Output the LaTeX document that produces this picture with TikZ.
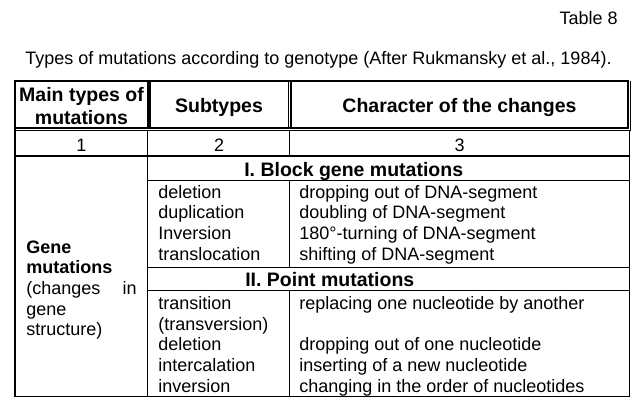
\documentclass[tikz,border=0pt]{standalone}
\usepackage{fontspec}
\setmainfont{Liberation Sans}
\newcommand\tabtext{\fontsize{12}{13.8}\selectfont}
\newcommand\tabhead{\fontsize{13}{15}\selectfont\bfseries}
\tikzset{
	cell/.style={inner sep=0pt, anchor=base west, font=\tabtext},
	cellc/.style={inner sep=0pt, anchor=base, font=\tabtext},
	headc/.style={inner sep=0pt, anchor=base, font=\tabhead},
	heavy/.style={line width=1.3pt},
	rule/.style={line width=0.7pt}
}
\begin{document}
\begin{tikzpicture}[x=0.6667pt, y=-0.6667pt]
	\useasboundingbox (0,0) rectangle (642,411);
	% Ueberschrift
	\node[cell, anchor=base east] (tabno) at (618, 25) {Table 8};
	\node[cell] (caption) at (25, 65) {Types of mutations according to genotype (After Rukmansky et al., 1984).};

	% Kopfzeile
	\draw[heavy] (15, 81) rectangle (628.3, 128.3);
	\draw[heavy] (147.7, 81) -- (147.7, 128.3);
	\draw[heavy] (290.7, 81) -- (290.7, 128.3);
	\draw[rule] (150, 81) -- (150, 128.3);
	\draw[rule] (288.3, 81) -- (288.3, 128.3);
	\draw[rule] (15, 130.7) -- (630.7, 130.7) -- (630.7, 81);
	\node[headc] (main1) at (81.5, 101) {Main types of};
	\node[headc] (main2) at (81.5, 124) {mutations};
	\node[headc] (sub) at (219, 112.5) {Subtypes};
	\node[headc] (char) at (459.5, 112.5) {Character of the changes};

	% Spaltennummern
	\foreach \x/\n in {81.5/1, 219/2, 459.5/3}
		\node[cellc] (num\n) at (\x, 151) {\n};

	% Linien im Tabellenkoerper
	\draw[rule] (15, 128.3) -- (15, 396.7) -- (629.3, 396.7) -- (629.3, 130.7);
	\draw[rule] (15, 156) -- (629.3, 156);
	\draw[rule] (147.5, 130.7) -- (147.5, 396.7);
	\foreach \y in {180.7, 267.5, 290.7}
		\draw[rule] (147.5, \y) -- (629.3, \y);
	\draw[rule] (289.5, 130.7) -- (289.5, 156);
	\draw[rule] (289.5, 180.7) -- (289.5, 267.5);
	\draw[rule] (289.5, 290.7) -- (289.5, 396.7);

	% Spalte 1
	\node[cell, font=\tabtext\bfseries] (gene) at (26, 253) {Gene};
	\node[cell, font=\tabtext\bfseries] (genemut) at (26, 273.7) {mutations};
	\node[cell] (changes) at (26, 294.4) {(changes};
	\node[cell, anchor=base east] (in) at (137, 294.4) {in};
	\node[cell] (gene2) at (26, 315.1) {gene};
	\node[cell] (struct) at (26, 335.8) {structure)};

	% I. Blockmutationen
	\node[cell, font=\tabhead] (block) at (244, 176) {I. Block gene mutations};
	\foreach \i/\y/\sub/\chr in {1/198/deletion/dropping out of DNA-segment,
		2/218.7/duplication/doubling of DNA-segment,
		3/239.4/Inversion/180°-turning of DNA-segment,
		4/260.1/translocation/shifting of DNA-segment} {
		\node[cell] (bsub\i) at (158, \y) {\sub};
		\node[cell] (bchr\i) at (299, \y) {\chr};
	}

	% II. Punktmutationen
	\node[cell, font=\tabhead] (point) at (245, 286) {II. Point mutations};
	\foreach \i/\y/\sub/\chr in {1/309.5/transition/replacing one nucleotide by another,
		2/330.2/{(transversion)}/{},
		3/350.9/deletion/dropping out of one nucleotide,
		4/371.6/intercalation/inserting of a new nucleotide,
		5/392.3/inversion/changing in the order of nucleotides} {
		\node[cell] (psub\i) at (158, \y) {\sub};
		\node[cell] (pchr\i) at (299, \y) {\chr};
	}
\end{tikzpicture}
\end{document}
